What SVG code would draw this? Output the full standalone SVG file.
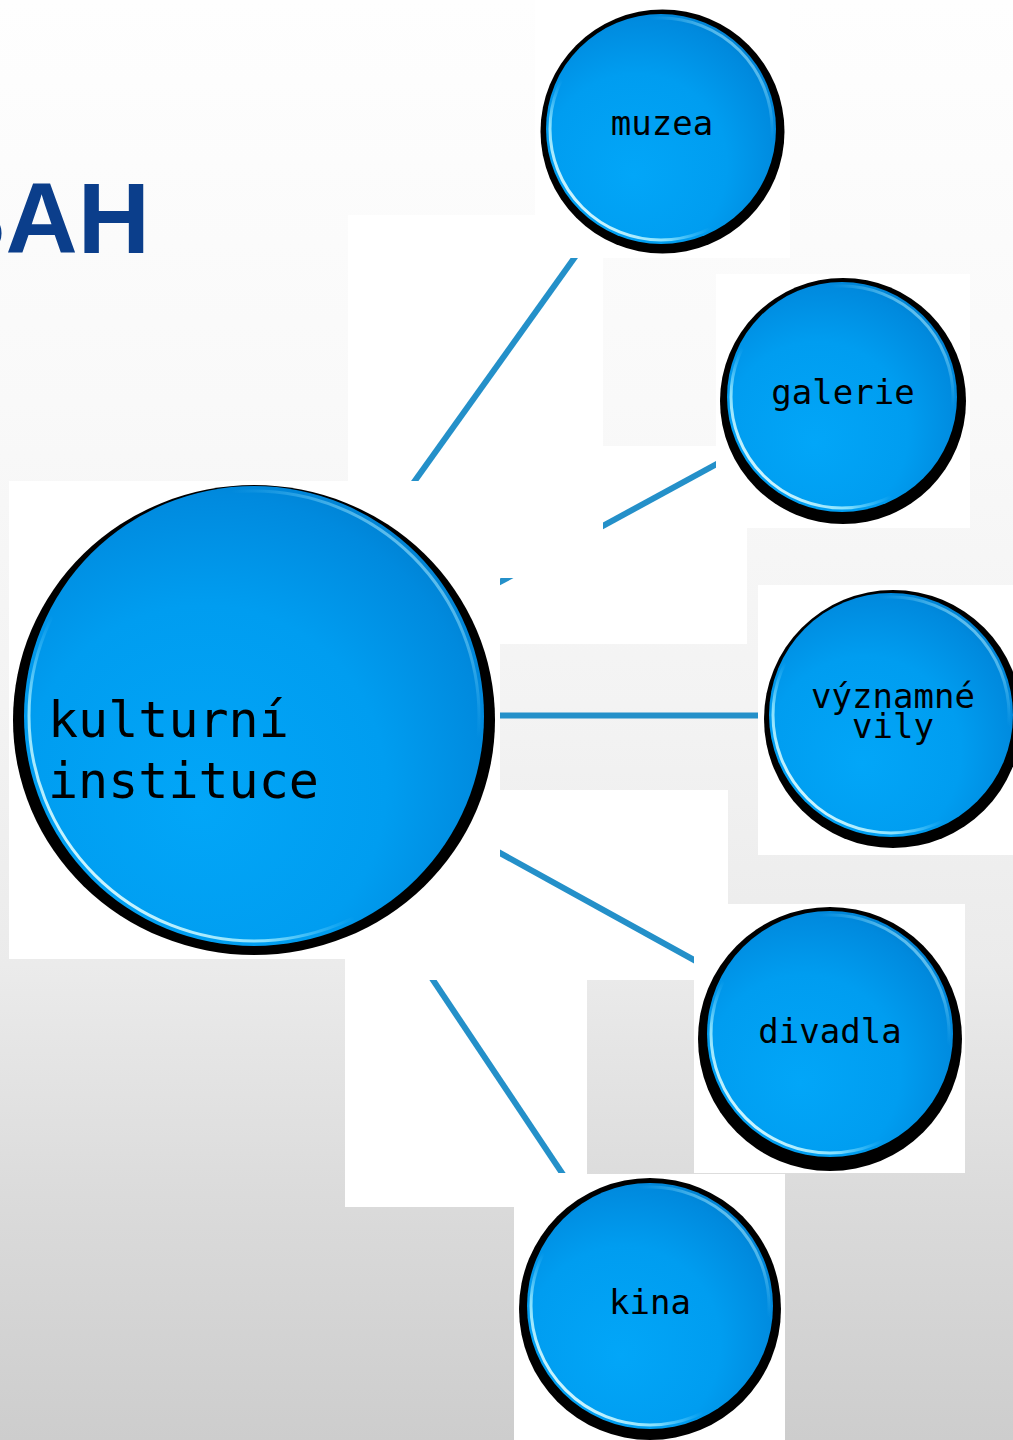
<svg xmlns="http://www.w3.org/2000/svg" width="1013" height="1440" viewBox="0 0 1013 1440">
  <style>
    .panel { fill: #ffffff; }
    .shadow { fill: #000000; }
    .ball { fill: url(#ballFill); }
    .rim { fill: none; stroke: url(#rimGrad); stroke-width: 3; }
    .conn { stroke: #2490c9; stroke-width: 6; fill: none; stroke-linecap: butt; }
    .lbl { font-family: "DejaVu Sans Mono", "Liberation Mono", monospace; font-size: 34px; fill: #000000; text-anchor: middle; }
    .big { font-family: "DejaVu Sans Mono", "Liberation Mono", monospace; font-size: 50px; fill: #000000; }
    .title { font-family: "Liberation Sans", Arial, sans-serif; font-weight: bold; font-size: 100px; fill: #0b3e8b; text-anchor: end; }
  </style>
  <defs>
    <linearGradient id="bg" x1="0" y1="0" x2="0" y2="1">
      <stop offset="0" stop-color="#fefefe"/>
      <stop offset="0.28" stop-color="#f9f9f9"/>
      <stop offset="0.49" stop-color="#f3f3f3"/>
      <stop offset="0.67" stop-color="#ebebeb"/>
      <stop offset="0.84" stop-color="#dadada"/>
      <stop offset="1" stop-color="#cdcdcd"/>
    </linearGradient>
    <radialGradient id="ballFill" cx="0.4" cy="0.62" r="0.72" fx="0.38" fy="0.7">
      <stop offset="0" stop-color="#02a6f8"/>
      <stop offset="0.55" stop-color="#009df0"/>
      <stop offset="0.85" stop-color="#008ade"/>
      <stop offset="1" stop-color="#007ccb"/>
    </radialGradient>
    <linearGradient id="rimGrad" x1="0.1" y1="0.9" x2="0.9" y2="0.1">
      <stop offset="0" stop-color="#e8fcff" stop-opacity="1"/>
      <stop offset="0.2" stop-color="#a0ecff" stop-opacity="0.85"/>
      <stop offset="0.36" stop-color="#5fd0ff" stop-opacity="0"/>
      <stop offset="0.78" stop-color="#5fd0ff" stop-opacity="0"/>
      <stop offset="0.92" stop-color="#9fe8ff" stop-opacity="0.5"/>
      <stop offset="1" stop-color="#c0f0ff" stop-opacity="0.7"/>
    </linearGradient>
    <clipPath id="c1"><rect x="348" y="258" width="255" height="223"/></clipPath>
    <clipPath id="c2"><rect x="500" y="578" width="103" height="70"/><rect x="603" y="446" width="113" height="198"/></clipPath>
    <clipPath id="c4"><rect x="500" y="790" width="194" height="190"/></clipPath>
    <clipPath id="c5"><rect x="345" y="980" width="242" height="193"/></clipPath>
  </defs>

  <rect x="0" y="0" width="1013" height="1440" fill="url(#bg)"/>

  <text class="title" x="150" y="253">OBSAH</text>

  <g id="panels">
    <rect class="panel" x="535" y="0" width="255" height="258"/>
    <rect class="panel" x="348" y="215" width="255" height="363"/>
    <rect class="panel" x="716" y="274" width="254" height="254"/>
    <rect class="panel" x="500" y="446" width="247" height="198"/>
    <rect class="panel" x="758" y="585" width="255" height="270"/>
    <rect class="panel" x="9" y="481" width="491" height="478"/>
    <rect class="panel" x="500" y="790" width="228" height="190"/>
    <rect class="panel" x="694" y="904" width="271" height="269"/>
    <rect class="panel" x="345" y="959" width="242" height="248"/>
    <rect class="panel" x="514" y="1174" width="271" height="266"/>
  </g>

  <g id="connectors">
    <line class="conn" x1="590" y1="236" x2="399" y2="503" clip-path="url(#c1)"/>
    <line class="conn" x1="490" y1="587.4" x2="726" y2="458.9" clip-path="url(#c2)"/>
    <line class="conn" x1="500" y1="715.5" x2="758" y2="715.5"/>
    <line class="conn" x1="490" y1="847.5" x2="704" y2="965.5" clip-path="url(#c4)"/>
    <line class="conn" x1="426.3" y1="970" x2="568.7" y2="1183" clip-path="url(#c5)"/>
  </g>

  <g id="kulturni-instituce">
    <ellipse class="shadow" cx="254" cy="720" rx="241" ry="235"/>
    <circle class="ball" cx="254" cy="716" r="230"/>
    <circle class="rim" cx="254" cy="716" r="225"/>
    <text class="big" x="48" y="737">kulturní</text>
    <text class="big" x="48" y="798">instituce</text>
  </g>

  <g id="muzea">
    <circle class="shadow" cx="662.5" cy="131.5" r="122"/>
    <circle class="ball" cx="661" cy="129" r="115"/>
    <circle class="rim" cx="661" cy="129" r="111"/>
    <text class="lbl" x="662" y="135">muzea</text>
  </g>

  <g id="galerie">
    <circle class="shadow" cx="843" cy="401" r="123"/>
    <circle class="ball" cx="842" cy="397" r="115"/>
    <circle class="rim" cx="842" cy="397" r="111"/>
    <text class="lbl" x="843" y="404">galerie</text>
  </g>

  <g id="vyznamne-vily">
    <circle class="shadow" cx="893" cy="719" r="129"/>
    <circle class="ball" cx="891" cy="715" r="122"/>
    <circle class="rim" cx="891" cy="715" r="118"/>
    <text class="lbl" x="893" y="708">významné</text>
    <text class="lbl" x="893" y="738">vily</text>
  </g>

  <g id="divadla">
    <circle class="shadow" cx="830" cy="1039" r="132"/>
    <circle class="ball" cx="830" cy="1034" r="123"/>
    <circle class="rim" cx="830" cy="1034" r="119"/>
    <text class="lbl" x="830" y="1043">divadla</text>
  </g>

  <g id="kina">
    <circle class="shadow" cx="650" cy="1309" r="131"/>
    <circle class="ball" cx="650" cy="1306" r="123"/>
    <circle class="rim" cx="650" cy="1306" r="119"/>
    <text class="lbl" x="650" y="1314">kina</text>
  </g>
</svg>
